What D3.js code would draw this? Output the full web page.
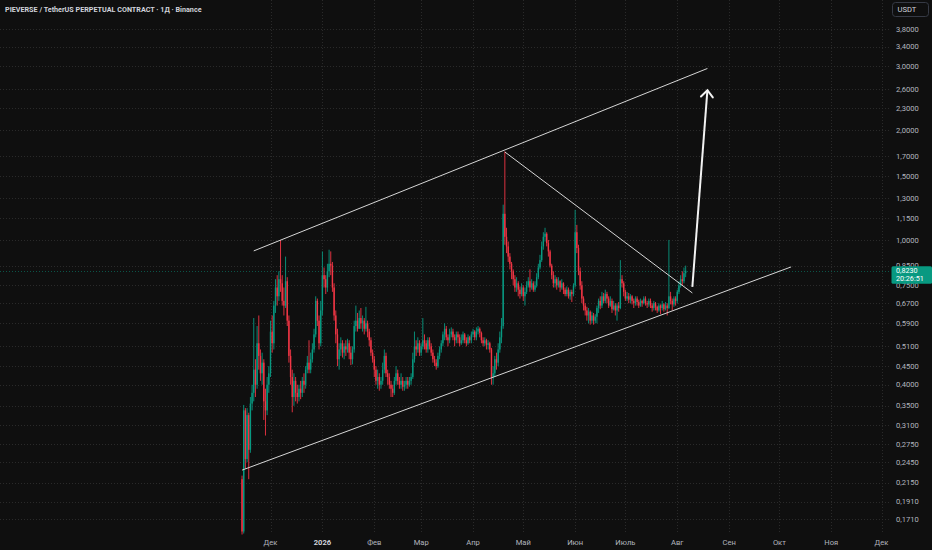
<!DOCTYPE html>
<html>
<head>
<meta charset="utf-8">
<script src="https://cdn.jsdelivr.net/npm/d3@7"></script>
<style>
  html, body { margin: 0; padding: 0; background: #0f0f0f; }
  svg { display: block; }
  text { font-family: Roboto, "Noto Sans", sans-serif; }
</style>
</head>
<body>
<svg id="chart" width="932" height="550"></svg>
<script>
// PIEVERSE/USDT perpetual, daily candles (open = previous close)
const firstDate = "2025-11-14";
const firstOpen = 0.22;
const closes = [
  0.158,0.34,0.25,0.33,0.265,0.355,0.38,0.44,0.40,0.52,
  0.48,0.43,0.46,0.36,0.34,0.40,0.43,0.56,0.52,0.66,
  0.74,0.70,0.78,0.76,0.68,0.66,0.77,0.60,0.48,0.42,
  0.37,0.41,0.38,0.37,0.39,0.38,0.41,0.40,0.44,0.46,
  0.44,0.47,0.50,0.55,0.68,0.60,0.52,0.64,0.80,0.78,
  0.74,0.82,0.86,0.85,0.74,0.62,0.55,0.47,0.50,0.52,
  0.49,0.51,0.50,0.52,0.49,0.47,0.50,0.58,0.60,0.57,
  0.61,0.59,0.60,0.57,0.59,0.56,0.53,0.49,0.47,0.44,
  0.41,0.42,0.40,0.41,0.44,0.48,0.43,0.42,0.40,0.39,
  0.38,0.41,0.43,0.41,0.40,0.41,0.395,0.40,0.41,0.40,
  0.41,0.42,0.47,0.51,0.50,0.52,0.49,0.51,0.53,0.52,
  0.50,0.53,0.51,0.49,0.47,0.46,0.45,0.48,0.50,0.52,
  0.55,0.57,0.54,0.53,0.55,0.56,0.54,0.53,0.55,0.54,
  0.52,0.53,0.55,0.53,0.52,0.54,0.53,0.55,0.56,0.54,
  0.56,0.57,0.555,0.53,0.52,0.53,0.515,0.52,0.50,0.42,
  0.43,0.47,0.46,0.50,0.54,0.58,1.18,1.02,0.96,0.90,
  0.86,0.82,0.78,0.74,0.76,0.73,0.71,0.74,0.70,0.72,
  0.75,0.77,0.74,0.76,0.73,0.75,0.79,0.84,0.88,0.96,
  1.02,1.04,0.98,0.93,0.85,0.80,0.76,0.78,0.75,0.77,
  0.74,0.76,0.73,0.71,0.73,0.70,0.72,0.71,0.75,1.05,
  0.95,0.82,0.75,0.69,0.66,0.64,0.62,0.635,0.60,0.62,
  0.60,0.615,0.65,0.68,0.66,0.70,0.68,0.71,0.69,0.66,
  0.68,0.645,0.66,0.64,0.66,0.65,0.78,0.76,0.72,0.69,
  0.70,0.685,0.70,0.68,0.67,0.69,0.675,0.66,0.68,0.67,
  0.69,0.67,0.665,0.68,0.66,0.65,0.67,0.655,0.64,0.66,
  0.65,0.665,0.645,0.66,0.65,0.70,0.68,0.665,0.69,0.68,
  0.72,0.75,0.78,0.77,0.81,0.823
];
const highs = [
  0.225,0.352,0.345,0.345,0.335,0.37,0.40,0.61,0.47,0.58,
  0.62,0.50,0.49,0.47,0.39,0.42,0.45,0.60,0.62,0.68,
  0.78,0.80,0.82,1.0,0.80,0.74,0.90,0.79,0.62,0.50,
  0.44,0.43,0.42,0.40,0.40,0.41,0.42,0.43,0.45,0.48,
  0.53,0.49,0.52,0.57,0.70,0.69,0.62,0.68,0.93,0.84,
  0.80,0.86,0.94,0.93,0.87,0.76,0.64,0.57,0.52,0.54,
  0.53,0.52,0.53,0.535,0.53,0.51,0.51,0.60,0.66,0.63,
  0.64,0.65,0.62,0.61,0.655,0.60,0.57,0.54,0.50,0.48,
  0.45,0.44,0.43,0.42,0.46,0.50,0.49,0.44,0.43,0.41,
  0.40,0.42,0.45,0.44,0.42,0.43,0.42,0.41,0.42,0.42,
  0.42,0.43,0.49,0.56,0.53,0.54,0.53,0.52,0.61,0.55,
  0.53,0.54,0.54,0.52,0.50,0.48,0.47,0.49,0.51,0.53,
  0.56,0.59,0.58,0.55,0.57,0.575,0.57,0.55,0.56,0.56,
  0.55,0.55,0.56,0.555,0.54,0.55,0.545,0.56,0.57,0.565,
  0.575,0.58,0.575,0.56,0.54,0.54,0.535,0.53,0.525,0.505,
  0.45,0.48,0.49,0.52,0.56,0.61,1.25,1.75,1.08,0.99,
  0.92,0.87,0.83,0.80,0.79,0.77,0.745,0.76,0.75,0.74,
  0.77,0.79,0.83,0.78,0.77,0.77,0.81,0.86,0.91,0.99,
  1.05,1.08,1.05,1.0,0.94,0.86,0.82,0.80,0.79,0.79,
  0.775,0.78,0.765,0.74,0.745,0.74,0.73,0.73,0.76,1.21,
  1.10,0.97,0.84,0.77,0.70,0.67,0.655,0.65,0.64,0.635,
  0.63,0.625,0.66,0.69,0.70,0.72,0.715,0.73,0.72,0.70,
  0.70,0.69,0.68,0.67,0.67,0.675,0.88,0.80,0.77,0.73,
  0.72,0.715,0.71,0.705,0.69,0.70,0.70,0.685,0.69,0.685,
  0.70,0.70,0.68,0.69,0.69,0.67,0.68,0.675,0.66,0.67,
  0.665,0.68,0.67,0.675,0.67,1.0,0.72,0.69,0.70,0.70,
  0.73,0.77,0.80,0.82,0.84,0.85
];
const lows = [
  0.155,0.156,0.235,0.245,0.22,0.26,0.34,0.36,0.37,0.39,
  0.44,0.41,0.40,0.32,0.29,0.33,0.38,0.42,0.49,0.50,
  0.63,0.66,0.68,0.72,0.66,0.62,0.65,0.58,0.46,0.40,
  0.336,0.35,0.36,0.355,0.36,0.365,0.37,0.38,0.39,0.43,
  0.43,0.43,0.46,0.49,0.54,0.58,0.50,0.51,0.62,0.74,
  0.71,0.72,0.79,0.80,0.72,0.60,0.52,0.45,0.44,0.48,
  0.475,0.47,0.48,0.49,0.47,0.453,0.455,0.49,0.56,0.56,
  0.57,0.57,0.56,0.55,0.56,0.54,0.51,0.48,0.46,0.42,
  0.40,0.39,0.385,0.39,0.40,0.43,0.42,0.40,0.39,0.37,
  0.37,0.375,0.40,0.40,0.39,0.39,0.385,0.385,0.39,0.39,
  0.395,0.40,0.415,0.46,0.48,0.49,0.48,0.48,0.50,0.50,
  0.49,0.49,0.50,0.48,0.46,0.45,0.44,0.445,0.47,0.49,
  0.51,0.53,0.53,0.51,0.52,0.54,0.53,0.51,0.52,0.52,
  0.51,0.515,0.52,0.52,0.51,0.515,0.52,0.52,0.54,0.53,
  0.53,0.55,0.54,0.52,0.51,0.51,0.50,0.50,0.49,0.40,
  0.40,0.42,0.44,0.45,0.49,0.52,0.57,0.97,0.92,0.87,
  0.83,0.78,0.75,0.72,0.72,0.70,0.69,0.70,0.68,0.66,
  0.71,0.74,0.72,0.73,0.72,0.72,0.74,0.78,0.83,0.87,
  0.94,0.99,0.96,0.90,0.84,0.78,0.74,0.74,0.73,0.74,
  0.72,0.73,0.71,0.70,0.70,0.69,0.685,0.675,0.70,0.74,
  0.92,0.80,0.73,0.67,0.64,0.62,0.60,0.59,0.585,0.59,
  0.585,0.59,0.59,0.63,0.645,0.65,0.67,0.67,0.67,0.65,
  0.655,0.63,0.64,0.62,0.60,0.635,0.645,0.74,0.70,0.68,
  0.68,0.67,0.67,0.665,0.65,0.66,0.66,0.65,0.655,0.655,
  0.665,0.66,0.65,0.655,0.65,0.635,0.64,0.64,0.63,0.635,
  0.625,0.64,0.635,0.64,0.62,0.645,0.665,0.64,0.655,0.66,
  0.67,0.71,0.74,0.75,0.76,0.79
];

// Price axis ticks and calendar ticks
const priceTicks = [3.8,3.4,3.0,2.6,2.3,2.0,1.7,1.5,1.3,1.15,1.0,0.85,0.75,0.67,0.59,0.51,0.45,0.40,0.35,0.31,0.275,0.245,0.215,0.191,0.171];
const monthTicks = ["2025-12-01","2026-01-01","2026-02-01","2026-03-01","2026-04-01","2026-05-01","2026-06-01","2026-07-01","2026-08-01","2026-09-01","2026-10-01","2026-11-01","2026-12-01"];
const monthLabels = ["Дек","2026","Фев","Мар","Апр","Май","Июн","Июль","Авг","Сен","Окт","Ноя","Дек"];

// Hand-drawn analysis lines: [date, price]
const upperChannel = [["2025-11-21",0.933],["2026-08-19",2.96]];
const lowerChannel = [["2025-11-14",0.233],["2026-10-08",0.843]];
const trendLine = [["2026-04-20",1.745],["2026-08-10",0.715]];
const arrowPath = [["2026-08-10",0.743],["2026-08-19",2.58]];

const lastPrice = 0.823;
const lastPriceText = "0,8230";
const countdownText = "20:26:51";
const titleText = "PIEVERSE / TetherUS PERPETUAL CONTRACT · 1Д · Binance";
const currencyText = "USDT";

const W = 932, H = 550;
const UP = "#089981", DOWN = "#f23645";
const parse = d3.utcParse("%Y-%m-%d");
const svg = d3.select("#chart");

svg.append("rect").attr("width", W).attr("height", H).attr("fill", "#0f0f0f");

const x = d3.scaleUtc()
  .domain([parse("2025-12-01"), parse("2026-12-01")])
  .range([270.5, 881.5]);
const y = d3.scaleLog()
  .domain([0.171, 3.8])
  .range([519, 29]);

const plotRight = 890, plotBottom = 532;

// grid
const grid = svg.append("g").attr("stroke", "#2a2a2a").attr("stroke-dasharray", "1 2");
grid.selectAll("line.h").data(priceTicks).join("line")
  .attr("class", "h")
  .attr("x1", 0).attr("x2", plotRight)
  .attr("y1", d => Math.round(y(d)) + 0.5).attr("y2", d => Math.round(y(d)) + 0.5);
grid.selectAll("line.v").data(monthTicks).join("line")
  .attr("class", "v")
  .attr("x1", d => Math.round(x(parse(d))) + 0.5).attr("x2", d => Math.round(x(parse(d))) + 0.5)
  .attr("y1", 0).attr("y2", plotBottom);

// last-price line
svg.append("line")
  .attr("x1", 0).attr("x2", plotRight)
  .attr("y1", Math.round(y(lastPrice)) + 0.5).attr("y2", Math.round(y(lastPrice)) + 0.5)
  .attr("stroke", UP).attr("stroke-opacity", 0.5).attr("stroke-dasharray", "1 2");

// candles
const start = parse(firstDate);
const candles = closes.map((c, i) => {
  const o = i === 0 ? firstOpen : closes[i - 1];
  return {
    date: d3.utcDay.offset(start, i),
    o, c,
    h: Math.max(highs[i], o, c),
    l: Math.min(lows[i], o, c)
  };
});

const cg = svg.append("g");
cg.selectAll("line.wick").data(candles).join("line")
  .attr("class", "wick")
  .attr("x1", d => x(d.date)).attr("x2", d => x(d.date))
  .attr("y1", d => y(d.h)).attr("y2", d => y(d.l))
  .attr("stroke", d => d.c >= d.o ? UP : DOWN)
  .attr("stroke-width", 0.9);
cg.selectAll("rect.body").data(candles).join("rect")
  .attr("class", "body")
  .attr("x", d => x(d.date) - 0.7)
  .attr("width", 1.4)
  .attr("y", d => y(Math.max(d.o, d.c)))
  .attr("height", d => Math.max(0.8, Math.abs(y(d.o) - y(d.c))))
  .attr("fill", d => d.c >= d.o ? UP : DOWN);

// drawings
const line = d3.line().x(d => x(parse(d[0]))).y(d => y(d[1]));
const dg = svg.append("g").attr("fill", "none");
[upperChannel, lowerChannel, trendLine].forEach(pts => {
  dg.append("path").attr("d", line(pts))
    .attr("stroke", "#d6d6d6").attr("stroke-width", 1);
});
dg.append("path").attr("d", line(arrowPath))
  .attr("stroke", "#f2f2f2").attr("stroke-width", 2);

// arrowhead at the tip of the arrow
const tip = [x(parse(arrowPath[1][0])), y(arrowPath[1][1])];
const tail = [x(parse(arrowPath[0][0])), y(arrowPath[0][1])];
const ang = Math.atan2(tail[1] - tip[1], tail[0] - tip[0]);
const headLen = 9, spread = 0.72;
const head = [
  [tip[0] + headLen * Math.cos(ang - spread), tip[1] + headLen * Math.sin(ang - spread)],
  tip,
  [tip[0] + headLen * Math.cos(ang + spread), tip[1] + headLen * Math.sin(ang + spread)]
];
dg.append("path").attr("d", d3.line()(head))
  .attr("stroke", "#f2f2f2").attr("stroke-width", 2)
  .attr("stroke-linejoin", "miter").attr("stroke-linecap", "round");

// price axis labels
const fmt = v => v.toFixed(4).replace(".", ",");
svg.append("g").selectAll("text").data(priceTicks).join("text")
  .attr("x", 896).attr("y", d => y(d)).attr("dy", "0.35em")
  .attr("font-size", 7.6).attr("fill", "#b2b5be")
  .text(fmt);

// time axis labels
svg.append("g").selectAll("text").data(monthTicks).join("text")
  .attr("x", d => x(parse(d))).attr("y", 545)
  .attr("text-anchor", "middle")
  .attr("font-size", 7.6)
  .attr("font-weight", (d, i) => monthLabels[i] === "2026" ? "bold" : "normal")
  .attr("fill", (d, i) => monthLabels[i] === "2026" ? "#d1d4dc" : "#b2b5be")
  .text((d, i) => monthLabels[i]);

// title
svg.append("text").attr("x", 5).attr("y", 12)
  .attr("font-size", 7.2).attr("font-weight", "bold").attr("fill", "#d1d4dc")
  .text(titleText);

// currency box
svg.append("rect").attr("x", 892.5).attr("y", 2.5).attr("width", 36).attr("height", 14).attr("rx", 3)
  .attr("fill", "#0f0f0f").attr("stroke", "#363a45");
svg.append("text").attr("x", 897.5).attr("y", 12.3)
  .attr("font-size", 7.6).attr("fill", "#d1d4dc").text(currencyText);

// last-price badge
const ly = y(lastPrice);
svg.append("rect").attr("x", 891.5).attr("y", ly - 4.5).attr("width", 40.5).attr("height", 17.5).attr("rx", 1.5)
  .attr("fill", UP);
svg.append("text").attr("x", 896).attr("y", ly + 2.6)
  .attr("font-size", 7.2).attr("fill", "#ffffff").text(lastPriceText);
svg.append("text").attr("x", 896).attr("y", ly + 10.6)
  .attr("font-size", 7.2).attr("fill", "#ffffff").text(countdownText);
</script>
</body>
</html>
